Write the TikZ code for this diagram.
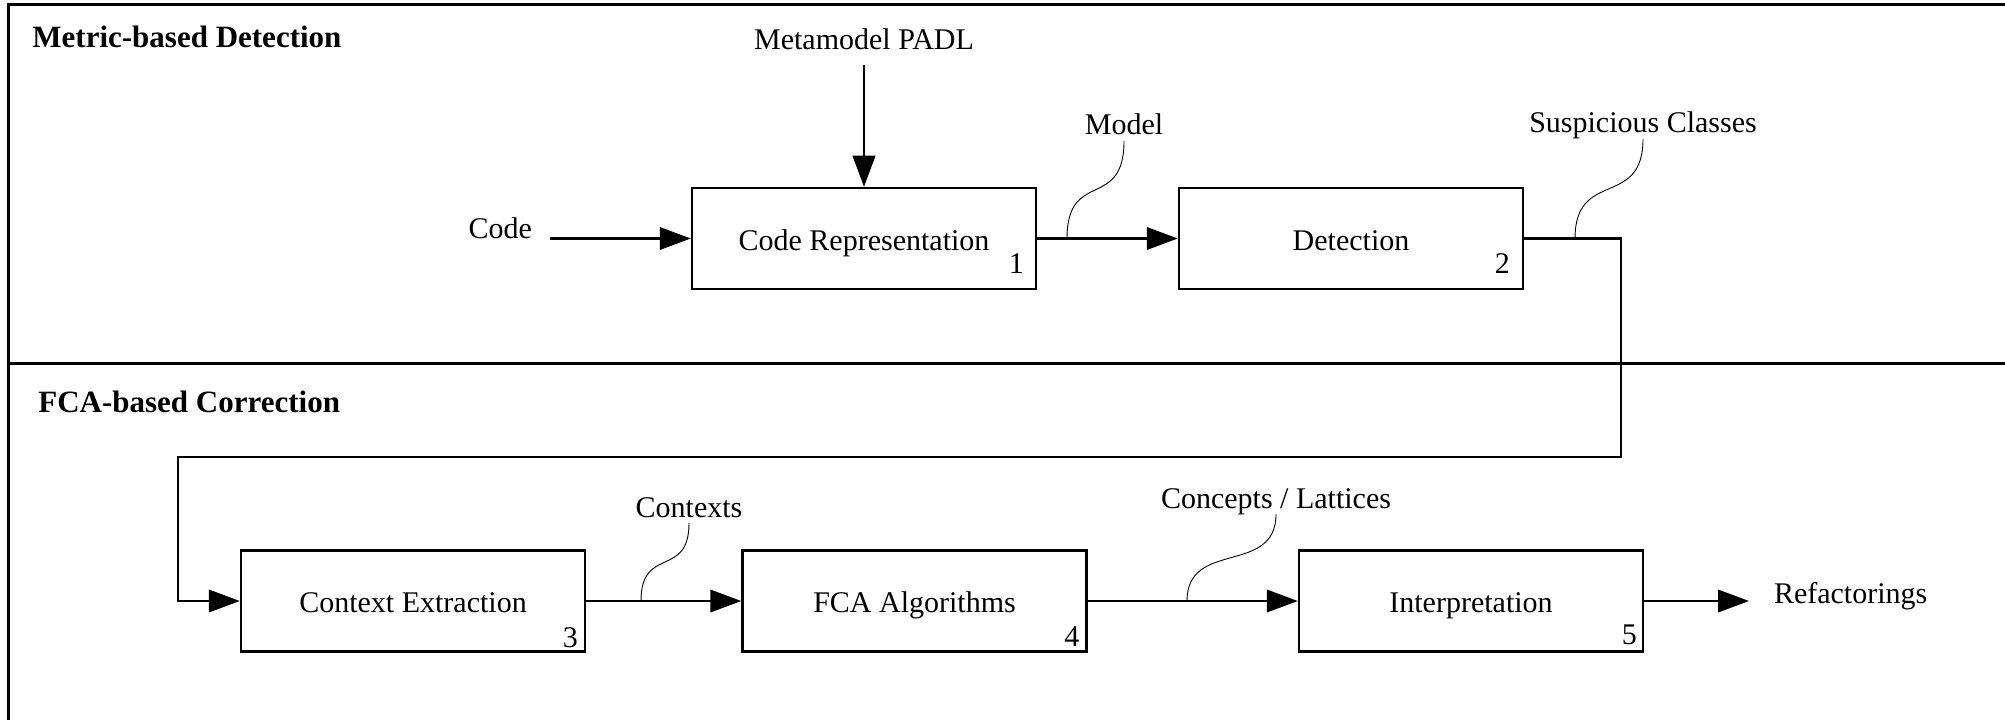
\documentclass[tikz,border=0pt]{standalone}
\usepackage{fontspec}
\setmainfont{Liberation Serif}
\usetikzlibrary{arrows.meta,calc}
\begin{document}
\begin{tikzpicture}[x=0.5pt,y=0.5pt,
  font=\fontsize{15}{18}\selectfont,
  proc/.style={draw,line width=1.25pt,minimum width=172pt,minimum height=50.5pt,inner sep=0pt,text height=11.5pt,text depth=0pt},
  num/.style={anchor=base east,inner sep=0pt},
  lbl/.style={inner sep=0pt,outer sep=3pt,text depth=0pt},
  title/.style={anchor=base west,inner sep=0pt,font=\fontsize{15.5}{18}\selectfont\bfseries},
  arr/.style={line width=1.1pt,-{Triangle[length=15.5pt,width=11.25pt]}},
  wavy/.style={line width=0.45pt},
  frame/.style={line width=1.5pt}]
\useasboundingbox (0,0) rectangle (2005,719);
\clip (0,0) rectangle (2005,719);
% frame of the two lanes
\draw[frame] (2015,714) -- (8,714) -- (8,-10);
\draw[frame] (8,356) -- (2015,356);
% lane titles
\node[title] (t1) at (32,671) {Metric-based Detection};
\node[title] (t2) at (38,307) {FCA-based Correction};
% process boxes
\node[proc] (cr) at (864,480.5) {Code Representation};
\node[proc] (det) at (1351,480.5) {Detection};
\node[proc] (ce) at (413,118) {Context Extraction};
\node[proc] (fca) at (914.5,118) {FCA Algorithms};
\node[proc] (interp) at (1471,118) {Interpretation};
% numbers
\node[num] (n1) at ([xshift=-6.5pt,yshift=8.5pt]cr.south east) {1};
\node[num] (n2) at ([xshift=-7pt,yshift=8.5pt]det.south east) {2};
\node[num] (n3) at ([xshift=-4pt,yshift=2.5pt]ce.south east) {3};
\node[num] (n4) at ([xshift=-4pt,yshift=3pt]fca.south east) {4};
\node[num] (n5) at ([xshift=-3.5pt,yshift=4pt]interp.south east) {5};
% labels
\node[lbl,anchor=base,outer sep=7.5pt] (meta) at (864,669) {Metamodel PADL};
\node[lbl,anchor=base east,outer xsep=9pt] (code) at (550,481) {Code};
\node[lbl,anchor=base west,outer xsep=12.5pt] (refac) at (1749,116) {Refactorings};
\node[lbl,anchor=base] (model) at (1124,584) {Model};
\node[lbl,anchor=base] (susp) at (1643,586) {Suspicious Classes};
\node[lbl,anchor=base] (ctx) at (689,202) {Contexts};
\node[lbl,anchor=base] (conc) at (1276,211) {Concepts / Lattices};
% helper coordinates
\coordinate (mb) at (1067,480.5);
\coordinate (sb) at (1575,480.5);
\coordinate (cb) at (641,118);
\coordinate (lb) at (1187,118);
\coordinate (fb1) at (1621,262);
\coordinate (fb2) at (178,262);
% connectors
\draw[arr] (meta.south) -- (cr.north);
\draw[arr] (code.east |- cr.west) -- (cr.west);
\draw[arr] (cr.east) -- (det.west);
\draw[arr] (det.east) -| (fb1) -- (fb2) |- (ce.west);
\draw[arr] (ce.east) -- (fca.west);
\draw[arr] (fca.east) -- (interp.west);
\draw[arr] (interp.east) -- (interp.east -| refac.west);
% label leaders
\draw[wavy] (mb) .. controls +(0,70) and +(0,-70) .. (model.south);
\draw[wavy] (sb) .. controls +(0,70) and +(0,-70) .. (susp.south);
\draw[wavy] (cb) .. controls +(0,56) and +(0,-56) .. (ctx.south);
\draw[wavy] (lb) .. controls +(0,62) and +(0,-62) .. (conc.south);
\end{tikzpicture}
\end{document}
